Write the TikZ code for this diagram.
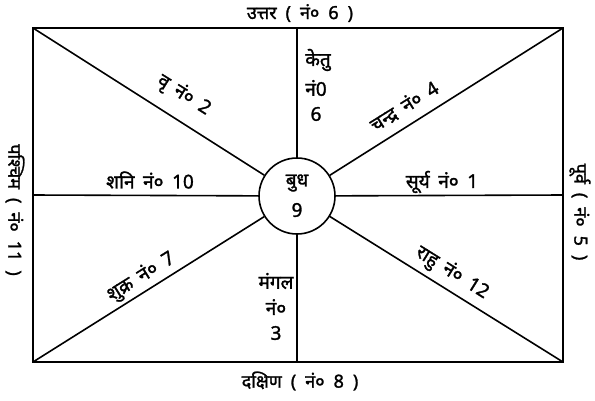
\documentclass[tikz,border=0pt]{standalone}
\usepackage{fontspec}
\newfontfamily\dev[Script=Devanagari,FakeBold=1.5]{Noto Sans}
\begin{document}
\begin{tikzpicture}[x=1pt,y=-1pt,
  edge/.style={line width=1.6pt,black},
  lbl/.style={font=\dev\fontsize{19}{21}\selectfont,inner sep=1pt,
    execute at begin node={\spaceskip=0.45em\relax}},
  dlbl/.style={font=\dev\fontsize{18}{20}\selectfont,inner sep=1pt,
    execute at begin node={\spaceskip=0.5em\relax}}]
\useasboundingbox (0,0) rectangle (595,400);
\coordinate (tl) at (33,28);
\coordinate (tr) at (563,28);
\coordinate (bl) at (33,362);
\coordinate (br) at (563,362);
\coordinate (tm) at (297,28);
\coordinate (bm) at (297,362);
\coordinate (lm) at (33,195);
\coordinate (rm) at (563,195);
\node[draw,circle,line width=1.6pt,minimum size=76pt,inner sep=0pt] (c) at (297,196) {};
\draw[edge] (tl) rectangle (br);
\draw[edge] (tl) -- (c);
\draw[edge] (tr) -- (c);
\draw[edge] (bl) -- (c);
\draw[edge] (br) -- (c);
\draw[edge] (tm) -- (c);
\draw[edge] (bm) -- (c);
\draw[edge] (lm) -- (c);
\draw[edge] (rm) -- (c);
% directions
\node[dlbl] (n) at (300,13) {उत्तर ( नं० 6 )};
\node[dlbl] (s) at (300,381) {दक्षिण ( नं० 8 )};
\node[dlbl,rotate=-90] (w) at (15,210) {पश्चिम ( नं० 11 )};
\node[dlbl,rotate=-90] (e) at (580,212) {पूर्व ( नं० 5 )};
% planets
\node[lbl] (ke1) at (318,60) {केतु};
\node[lbl] (ke2) at (316,88) {नं0};
\node[lbl] (ke3) at (316,114) {6};
\node[lbl,rotate=-32] (vr) at (184,95) {वृ नं० 2};
\node[lbl,rotate=32] (ch) at (404,106) {चन्द्र नं० 4};
\node[lbl] (sh) at (150,180) {शनि नं० 10};
\node[lbl] (su) at (442,182) {सूर्य नं० 1};
\node[lbl] (bu1) at (297,183) {बुध};
\node[lbl] (bu2) at (297,210) {9};
\node[lbl,rotate=32] (shu) at (141,277) {शुक्र नं० 7};
\node[lbl] (ma1) at (276,281) {मंगल};
\node[lbl] (ma2) at (276,307) {नं०};
\node[lbl] (ma3) at (276,333) {3};
\node[lbl,rotate=-32] (ra) at (452,273) {राहु नं० 12};
\end{tikzpicture}
\end{document}
